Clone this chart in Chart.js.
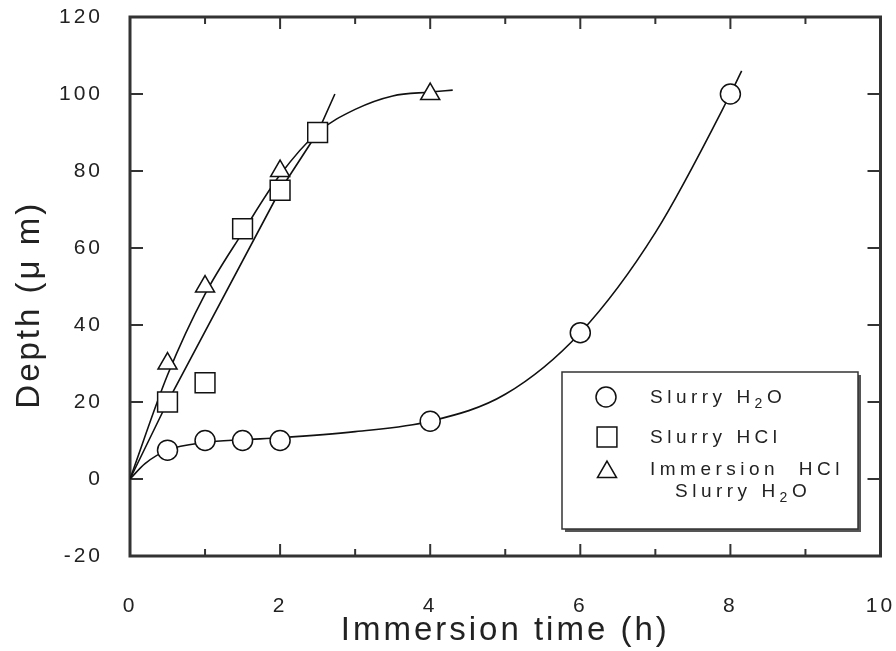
<!DOCTYPE html>
<html>
<head>
<meta charset="utf-8">
<script src="https://cdn.jsdelivr.net/npm/chart.js@4.4.0/dist/chart.umd.min.js"></script>
<style>
  html, body { margin: 0; padding: 0; background: #fff; }
</style>
</head>
<body>
<canvas id="chart_depth" width="896" height="651"></canvas>
<script>
const slurryH2O_x = [0.5, 1, 1.5, 2, 4, 6, 8];
const slurryH2O_y = [7.5, 10, 10, 10, 15, 38, 100];
const slurryHCl_x = [0.5, 1, 1.5, 2, 2.5];
const slurryHCl_y = [20, 25, 65, 75, 90];
const immersion_x = [0.5, 1, 2, 4];
const immersion_y = [30, 50, 80, 100];

// hand drawn guide curves, also
const fitH2O_x = [0, 0.2, 0.5, 1, 1.5, 2, 3, 4, 5, 6, 7, 8, 8.15];
const fitH2O_y = [0, 4, 7.5, 9.5, 10.2, 10.7, 12.3, 15, 22, 38, 64, 100, 106];
const fitHCl_x = [0, 0.5, 2, 2.5, 2.73];
const fitHCl_y = [0, 20, 75, 90, 100];
const fitImm_x = [0, 0.5, 1, 1.5, 2, 2.5, 3, 3.5, 4, 4.3];
const fitImm_y = [0, 27, 48, 64, 79, 90, 96, 99.5, 100.5, 101];

// tick labels
const xTickLabels = ["0", "2", "4", "6", "8", "10"];
const yTickLabels = ["-20", "0", "20", "40", "60", "80", "100", "120"];

const FONT = "'Liberation Sans', Arial, Helvetica, sans-serif";
const INK = "#222";

function toXY(xs, ys) {
  return xs.map((x, i) => ({ x: x, y: ys[i] }));
}

// keep the plot box where the figure has it
function noPad(s) {
  s.paddingLeft = 0;
  s.paddingRight = 0;
  s.paddingTop = 0;
  s.paddingBottom = 0;
}

// the scanned figure has wide spaced lettering
const spacing = {
  id: "spacing",
  beforeDraw(chart) {
    chart.ctx.letterSpacing = "3px";
  }
};

// box round the plot, with inward ticks on all four sides
const frameTicks = {
  id: "frameTicks",
  beforeDatasetsDraw(chart) {
    const ctx = chart.ctx;
    const a = chart.chartArea;
    const x = chart.scales.x;
    const y = chart.scales.y;
    ctx.save();
    ctx.strokeStyle = "#333";
    ctx.lineWidth = 2;
    ctx.beginPath();
    x.ticks.forEach((t) => {
      const px = x.getPixelForValue(t.value);
      const len = t.value % 2 === 0 ? 12 : 7;
      ctx.moveTo(px, a.bottom);
      ctx.lineTo(px, a.bottom - len);
      ctx.moveTo(px, a.top);
      ctx.lineTo(px, a.top + len);
    });
    y.ticks.forEach((t) => {
      const py = y.getPixelForValue(t.value);
      ctx.moveTo(a.left, py);
      ctx.lineTo(a.left + 13, py);
      ctx.moveTo(a.right, py);
      ctx.lineTo(a.right - 13, py);
    });
    ctx.stroke();
    ctx.lineWidth = 3;
    ctx.strokeRect(a.left, a.top, a.right - a.left, a.bottom - a.top);
    ctx.restore();
  }
};

// boxed legend with a drop shadow, like the printed one
const boxLegend = {
  id: "boxLegend",
  afterDraw(chart) {
    const ctx = chart.ctx;
    const bx = 562, by = 372, bw = 296, bh = 157;
    ctx.save();
    ctx.fillStyle = "#555";
    ctx.fillRect(bx + 3, by + 3, bw, bh);
    ctx.fillStyle = "#fff";
    ctx.fillRect(bx, by, bw, bh);
    ctx.strokeStyle = "#333";
    ctx.lineWidth = 1.5;
    ctx.strokeRect(bx, by, bw, bh);

    ctx.fillStyle = "#fff";
    ctx.strokeStyle = "#111";
    ctx.lineWidth = 1.5;
    Chart.helpers.drawPoint(ctx, { pointStyle: "circle", radius: 10, rotation: 0, borderWidth: 1.5 }, 606, 397);
    Chart.helpers.drawPoint(ctx, { pointStyle: "rect", radius: 14, rotation: 0, borderWidth: 1.5 }, 607, 437);
    Chart.helpers.drawPoint(ctx, { pointStyle: "triangle", radius: 11, rotation: 0, borderWidth: 1.5 }, 607, 472);

    ctx.letterSpacing = "4.5px";
    ctx.fillStyle = INK;
    ctx.textBaseline = "alphabetic";
    ctx.textAlign = "left";
    const big = "19px " + FONT;
    const small = "14px " + FONT;

    function line(parts, x, y) {
      parts.forEach((p) => {
        ctx.font = p.sub ? small : big;
        ctx.fillText(p.t, x, p.sub ? y + 5 : y);
        x += ctx.measureText(p.t).width;
      });
    }
    line([{ t: "Slurry H" }, { t: "2", sub: true }, { t: "O" }], 650, 403);
    line([{ t: "Slurry HCl" }], 650, 443);
    line([{ t: "Immersion  HCl" }], 650, 475);
    line([{ t: "Slurry H" }, { t: "2", sub: true }, { t: "O" }], 675, 497);
    ctx.restore();
  }
};

const markerBase = {
  showLine: false,
  backgroundColor: "#fff",
  borderColor: "#111",
  borderWidth: 1.5,
  pointBackgroundColor: "#fff",
  pointBorderColor: "#111",
  pointBorderWidth: 1.5
};

const curveBase = {
  showLine: true,
  pointRadius: 0,
  borderColor: "#111",
  borderWidth: 1.6,
  fill: false
};

const ctxDepth = document.getElementById("chart_depth").getContext("2d");

const depthChart = new Chart(ctxDepth, {
  type: "scatter",
  data: {
    datasets: [
      Object.assign({}, markerBase, {
        label: "Slurry H2O",
        data: toXY(slurryH2O_x, slurryH2O_y),
        pointStyle: "circle",
        pointRadius: 10
      }),
      Object.assign({}, markerBase, {
        label: "Slurry HCl",
        data: toXY(slurryHCl_x, slurryHCl_y),
        pointStyle: "rect",
        pointRadius: 14
      }),
      Object.assign({}, markerBase, {
        label: "Immersion HCl Slurry H2O",
        data: toXY(immersion_x, immersion_y),
        pointStyle: "triangle",
        pointRadius: 11
      }),
      Object.assign({}, curveBase, {
        label: "fit H2O",
        data: toXY(fitH2O_x, fitH2O_y),
        cubicInterpolationMode: "monotone"
      }),
      Object.assign({}, curveBase, {
        label: "fit HCl",
        data: toXY(fitHCl_x, fitHCl_y),
        tension: 0
      }),
      Object.assign({}, curveBase, {
        label: "fit immersion",
        data: toXY(fitImm_x, fitImm_y),
        cubicInterpolationMode: "monotone"
      })
    ]
  },
  options: {
    responsive: false,
    animation: false,
    events: [],
    layout: {
      padding: { top: 17, right: 15, left: 0, bottom: 0 }
    },
    plugins: {
      legend: { display: false },
      tooltip: { enabled: false }
    },
    scales: {
      x: {
        type: "linear",
        min: 0,
        max: 10,
        afterFit: function (s) {
          s.height = 95;
          noPad(s);
        },
        grid: { display: false, drawTicks: false },
        border: { display: false },
        ticks: {
          stepSize: 1,
          autoSkip: false,
          maxRotation: 0,
          padding: 38,
          color: INK,
          font: { family: FONT, size: 21 },
          callback: function (v) {
            const i = xTickLabels.indexOf(String(v));
            return i >= 0 ? xTickLabels[i] : "";
          }
        },
        title: {
          display: true,
          text: "Immersion time (h)",
          color: INK,
          font: { family: FONT, size: 33 },
          padding: { top: 0, bottom: 0 }
        }
      },
      y: {
        type: "linear",
        min: -20,
        max: 120,
        afterFit: function (s) {
          s.width = 130;
          noPad(s);
        },
        grid: { display: false, drawTicks: false },
        border: { display: false },
        ticks: {
          stepSize: 20,
          padding: 27,
          color: INK,
          font: { family: FONT, size: 21 },
          callback: function (v) {
            const i = yTickLabels.indexOf(String(v));
            return i >= 0 ? yTickLabels[i] : "";
          }
        },
        title: {
          display: true,
          text: "Depth (μ m)   ",
          color: INK,
          font: { family: FONT, size: 33 },
          padding: { top: 10, bottom: 0 }
        }
      }
    }
  },
  plugins: [spacing, frameTicks, boxLegend]
});
</script>
</body>
</html>
